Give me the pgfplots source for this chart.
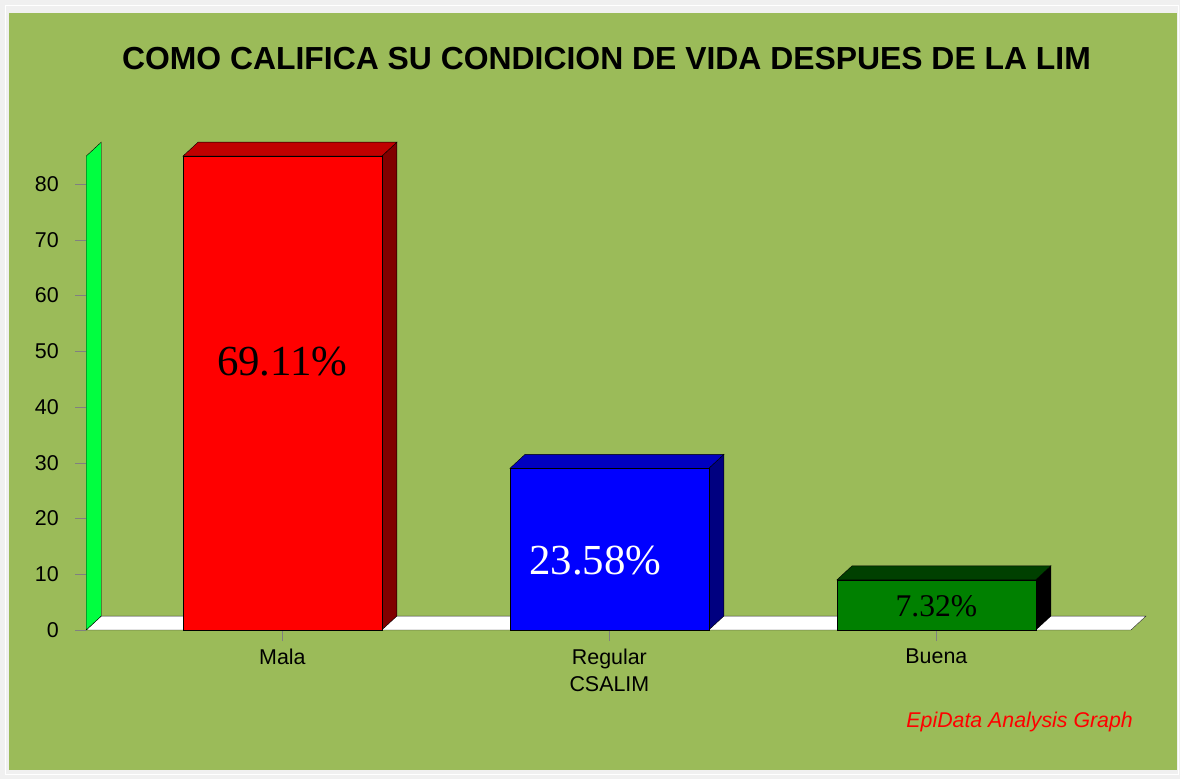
\documentclass[border=0pt]{standalone}
\usepackage{fontspec}
\setmainfont{Liberation Sans}
\newfontfamily\timesf{Liberation Serif}
\usepackage{pgfplots}
\pgfplotsset{compat=1.18}
\definecolor{outer}{RGB}{240,240,240}
\definecolor{panel}{RGB}{155,187,89}
\definecolor{wallgreen}{RGB}{0,255,64}
\definecolor{redtop}{RGB}{192,0,0}
\definecolor{redside}{RGB}{128,0,0}
\definecolor{bluetop}{RGB}{0,0,192}
\definecolor{blueside}{RGB}{0,0,128}
\definecolor{greenfront}{RGB}{0,128,0}
\definecolor{greentop}{RGB}{0,64,0}

\begin{document}
\begin{tikzpicture}
% frame and panel
\fill[outer] (0bp,0bp) rectangle (1180bp,779bp);
\draw[white, line width=1.2bp] (5.5bp,4.5bp) rectangle (1178.5bp,773.5bp);
\fill[panel] (9bp,9bp) rectangle (1177bp,766bp);
\node[font=\fontsize{32}{38}\selectfont\bfseries, anchor=base, inner sep=0pt]
  at (606.5bp,709bp) {COMO CALIFICA SU CONDICION DE VIDA DESPUES DE LA LIM};
\node[font=\fontsize{21.4}{25}\selectfont\itshape, text=red, anchor=base east, inner sep=0pt]
  at (1133bp,51.3bp) {EpiData Analysis Graph};

\begin{axis}[
  at={(86.2bp,149bp)}, anchor=south west,
  scale only axis, width=1046.4bp, height=501.75bp,
  xmin=-0.6, xmax=2.6, ymin=0, ymax=90,
  axis x line*=bottom, axis y line*=left,
  axis line style={draw=none},
  clip=false,
  xtick={0,1,2},
  xticklabels={Mala, Regular\\CSALIM, Buena},
  ytick={0,10,...,80},
  tick align=outside, major tick length=11bp,
  tick style={gray, thin},
  ticklabel style={font=\fontsize{21.5}{28}\selectfont},
  xticklabel style={align=center, yshift=-4bp},
  yticklabel style={xshift=-13bp},
  /pgf/number format/assume math mode=true,
]
% floor and left wall
\addplot[fill=white, draw=black!85, thin] coordinates {(-0.6,0)(2.595,0)(2.641,2.5)(-0.554,2.5)} -- cycle;
\addplot[fill=wallgreen, draw=black, thin] coordinates {(-0.6,0)(-0.6,85)(-0.554,87.5)(-0.554,2.5)} -- cycle;

% Mala
\addplot[fill=redside, draw=black, thin] coordinates {(0.304,0)(0.350,2.5)(0.350,87.5)(0.304,85)} -- cycle;
\addplot[fill=redtop, draw=black, thin] coordinates {(-0.304,85)(-0.258,87.5)(0.350,87.5)(0.304,85)} -- cycle;
\addplot[ybar, bar width=0.608, bar shift=0, fill=red, draw=black, thin] coordinates {(0,85)};

% Regular
\addplot[fill=blueside, draw=black, thin] coordinates {(1.304,0)(1.350,2.5)(1.350,31.5)(1.304,29)} -- cycle;
\addplot[fill=bluetop, draw=black, thin] coordinates {(0.696,29)(0.742,31.5)(1.350,31.5)(1.304,29)} -- cycle;
\addplot[ybar, bar width=0.608, bar shift=0, fill=blue, draw=black, thin] coordinates {(1,29)};

% Buena
\addplot[fill=black, draw=black, thin] coordinates {(2.304,0)(2.350,2.5)(2.350,11.5)(2.304,9)} -- cycle;
\addplot[fill=greentop, draw=black, thin] coordinates {(1.696,9)(1.742,11.5)(2.350,11.5)(2.304,9)} -- cycle;
\addplot[ybar, bar width=0.608, bar shift=0, fill=greenfront, draw=black, thin] coordinates {(2,9)};

% percentage labels
\node[font=\timesf\fontsize{43}{48}\selectfont, text=black] at (axis cs:0,48.1) {69.11\%};
\node[font=\timesf\fontsize{43}{48}\selectfont, text=white] at (axis cs:0.957,12.5) {23.58\%};
\node[font=\timesf\fontsize{31.7}{36}\selectfont, text=black] at (axis cs:2,4.2) {7.32\%};
\end{axis}
\end{tikzpicture}
\end{document}
